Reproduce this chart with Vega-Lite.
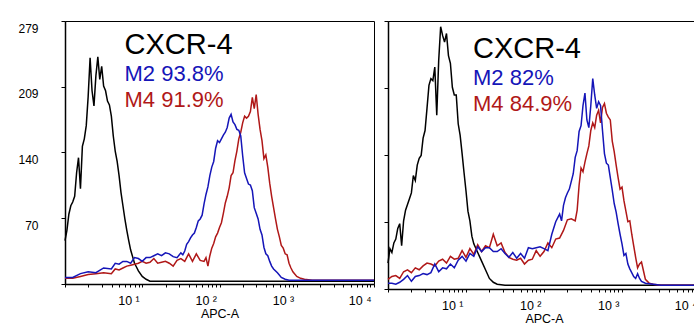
{
  "$schema": "https://vega.github.io/schema/vega-lite/v6.json",
  "background": "white",
  "padding": {"left": 17, "top": 15, "right": 0, "bottom": 0},
  "spacing": 5,
  "config": {
    "font": "Liberation Sans",
    "view": {"stroke": "black", "strokeWidth": 1},
    "axis": {"grid": false, "domainColor": "black", "domainWidth": 1.5, "tickColor": "black", "labelColor": "black", "titleColor": "black"},
    "axisX": {"tickSize": 3, "labelFontSize": 12.5, "labelPadding": 7, "labelAlign": "right", "labelOffset": -3, "labelFlush": false, "labelOverlap": false, "titleFontSize": 12.5, "titleFontWeight": "normal", "titlePadding": 1},
    "axisY": {"tickSize": 4, "labelFontSize": 12, "labelPadding": 23, "labelBaseline": "middle", "labelOffset": 7, "labelOverlap": false, "title": null}
  },
  "datasets": {
    "left": [
      {"sample":"Isotype","APC":1,"count":46},{"sample":"Isotype","APC":1.059,"count":57},{"sample":"Isotype","APC":1.122,"count":74},{"sample":"Isotype","APC":1.189,"count":83},{"sample":"Isotype","APC":1.259,"count":87},{"sample":"Isotype","APC":1.334,"count":93},{"sample":"Isotype","APC":1.413,"count":118},{"sample":"Isotype","APC":1.496,"count":134},{"sample":"Isotype","APC":1.585,"count":101},{"sample":"Isotype","APC":1.679,"count":146},{"sample":"Isotype","APC":1.778,"count":154},{"sample":"Isotype","APC":1.884,"count":168},{"sample":"Isotype","APC":1.995,"count":199},{"sample":"Isotype","APC":2.113,"count":240},{"sample":"Isotype","APC":2.239,"count":205},{"sample":"Isotype","APC":2.371,"count":189},{"sample":"Isotype","APC":2.512,"count":221},{"sample":"Isotype","APC":2.661,"count":241},{"sample":"Isotype","APC":2.818,"count":217},{"sample":"Isotype","APC":2.985,"count":231},{"sample":"Isotype","APC":3.162,"count":210},{"sample":"Isotype","APC":3.35,"count":205},{"sample":"Isotype","APC":3.548,"count":194},{"sample":"Isotype","APC":3.758,"count":190},{"sample":"Isotype","APC":3.981,"count":178},{"sample":"Isotype","APC":4.217,"count":157},{"sample":"Isotype","APC":4.467,"count":141},{"sample":"Isotype","APC":4.732,"count":130},{"sample":"Isotype","APC":5.012,"count":115},{"sample":"Isotype","APC":5.309,"count":97},{"sample":"Isotype","APC":5.623,"count":83},{"sample":"Isotype","APC":5.957,"count":69},{"sample":"Isotype","APC":6.31,"count":57},{"sample":"Isotype","APC":6.683,"count":46},{"sample":"Isotype","APC":7.079,"count":36},{"sample":"Isotype","APC":7.499,"count":29},{"sample":"Isotype","APC":7.943,"count":22},{"sample":"Isotype","APC":8.414,"count":18},{"sample":"Isotype","APC":8.913,"count":14},{"sample":"Isotype","APC":10,"count":8},{"sample":"Isotype","APC":11.22,"count":5},{"sample":"Isotype","APC":12.59,"count":3},{"sample":"Isotype","APC":31.62,"count":3},{"sample":"Isotype","APC":100,"count":3},{"sample":"Isotype","APC":316.2,"count":3},{"sample":"Isotype","APC":1000,"count":3},{"sample":"Isotype","APC":10000,"count":3},
      {"sample":"M4","APC":1,"count":6},{"sample":"M4","APC":1.259,"count":6},{"sample":"M4","APC":1.585,"count":8},{"sample":"M4","APC":1.995,"count":10},{"sample":"M4","APC":2.512,"count":11},{"sample":"M4","APC":3.162,"count":12},{"sample":"M4","APC":3.981,"count":11},{"sample":"M4","APC":4.467,"count":16},{"sample":"M4","APC":5.012,"count":15},{"sample":"M4","APC":5.623,"count":17},{"sample":"M4","APC":6.31,"count":19},{"sample":"M4","APC":7.079,"count":20},{"sample":"M4","APC":7.943,"count":21},{"sample":"M4","APC":8.913,"count":22},{"sample":"M4","APC":10,"count":24},{"sample":"M4","APC":11.22,"count":22},{"sample":"M4","APC":12.59,"count":23},{"sample":"M4","APC":14.13,"count":27},{"sample":"M4","APC":15.85,"count":22},{"sample":"M4","APC":17.78,"count":23},{"sample":"M4","APC":19.95,"count":24},{"sample":"M4","APC":22.39,"count":22},{"sample":"M4","APC":25.12,"count":19},{"sample":"M4","APC":28.18,"count":25},{"sample":"M4","APC":31.62,"count":27},{"sample":"M4","APC":35.48,"count":24},{"sample":"M4","APC":39.81,"count":32},{"sample":"M4","APC":44.67,"count":24},{"sample":"M4","APC":50.12,"count":32},{"sample":"M4","APC":56.23,"count":25},{"sample":"M4","APC":63.1,"count":24},{"sample":"M4","APC":66.83,"count":28},{"sample":"M4","APC":70.79,"count":19},{"sample":"M4","APC":74.99,"count":30},{"sample":"M4","APC":79.43,"count":38},{"sample":"M4","APC":84.14,"count":43},{"sample":"M4","APC":89.13,"count":50},{"sample":"M4","APC":94.41,"count":54},{"sample":"M4","APC":100,"count":60},{"sample":"M4","APC":105.9,"count":65},{"sample":"M4","APC":112.2,"count":75},{"sample":"M4","APC":118.9,"count":86},{"sample":"M4","APC":125.9,"count":93},{"sample":"M4","APC":133.4,"count":102},{"sample":"M4","APC":141.3,"count":115},{"sample":"M4","APC":149.6,"count":118},{"sample":"M4","APC":158.5,"count":131},{"sample":"M4","APC":167.9,"count":141},{"sample":"M4","APC":177.8,"count":154},{"sample":"M4","APC":188.4,"count":161},{"sample":"M4","APC":199.5,"count":171},{"sample":"M4","APC":211.3,"count":178},{"sample":"M4","APC":223.9,"count":176},{"sample":"M4","APC":237.1,"count":178},{"sample":"M4","APC":251.2,"count":183},{"sample":"M4","APC":266.1,"count":198},{"sample":"M4","APC":281.8,"count":186},{"sample":"M4","APC":298.5,"count":201},{"sample":"M4","APC":316.2,"count":180},{"sample":"M4","APC":335,"count":164},{"sample":"M4","APC":354.8,"count":152},{"sample":"M4","APC":375.8,"count":133},{"sample":"M4","APC":398.1,"count":137},{"sample":"M4","APC":421.7,"count":124},{"sample":"M4","APC":446.7,"count":107},{"sample":"M4","APC":473.2,"count":93},{"sample":"M4","APC":501.2,"count":81},{"sample":"M4","APC":530.9,"count":69},{"sample":"M4","APC":562.3,"count":58},{"sample":"M4","APC":595.7,"count":50},{"sample":"M4","APC":631,"count":41},{"sample":"M4","APC":668.3,"count":38},{"sample":"M4","APC":707.9,"count":32},{"sample":"M4","APC":749.9,"count":31},{"sample":"M4","APC":794.3,"count":22},{"sample":"M4","APC":841.4,"count":17},{"sample":"M4","APC":891.3,"count":13},{"sample":"M4","APC":1000,"count":8},{"sample":"M4","APC":1122,"count":6},{"sample":"M4","APC":1259,"count":5},{"sample":"M4","APC":1585,"count":4},{"sample":"M4","APC":10000,"count":4},
      {"sample":"M2","APC":1,"count":7},{"sample":"M2","APC":1.259,"count":7},{"sample":"M2","APC":1.585,"count":11},{"sample":"M2","APC":1.995,"count":13},{"sample":"M2","APC":2.512,"count":12},{"sample":"M2","APC":3.162,"count":17},{"sample":"M2","APC":3.981,"count":16},{"sample":"M2","APC":4.467,"count":22},{"sample":"M2","APC":5.012,"count":21},{"sample":"M2","APC":5.623,"count":24},{"sample":"M2","APC":6.31,"count":24},{"sample":"M2","APC":7.079,"count":22},{"sample":"M2","APC":7.943,"count":28},{"sample":"M2","APC":8.913,"count":27},{"sample":"M2","APC":10,"count":24},{"sample":"M2","APC":11.22,"count":28},{"sample":"M2","APC":12.59,"count":28},{"sample":"M2","APC":14.13,"count":30},{"sample":"M2","APC":15.85,"count":32},{"sample":"M2","APC":17.78,"count":30},{"sample":"M2","APC":19.95,"count":33},{"sample":"M2","APC":22.39,"count":32},{"sample":"M2","APC":25.12,"count":29},{"sample":"M2","APC":28.18,"count":28},{"sample":"M2","APC":31.62,"count":33},{"sample":"M2","APC":33.5,"count":31},{"sample":"M2","APC":35.48,"count":35},{"sample":"M2","APC":37.58,"count":42},{"sample":"M2","APC":39.81,"count":45},{"sample":"M2","APC":42.17,"count":49},{"sample":"M2","APC":44.67,"count":52},{"sample":"M2","APC":47.32,"count":54},{"sample":"M2","APC":50.12,"count":60},{"sample":"M2","APC":53.09,"count":67},{"sample":"M2","APC":56.23,"count":69},{"sample":"M2","APC":59.57,"count":73},{"sample":"M2","APC":63.1,"count":85},{"sample":"M2","APC":66.83,"count":95},{"sample":"M2","APC":70.79,"count":103},{"sample":"M2","APC":74.99,"count":115},{"sample":"M2","APC":79.43,"count":124},{"sample":"M2","APC":84.14,"count":130},{"sample":"M2","APC":89.13,"count":144},{"sample":"M2","APC":94.41,"count":152},{"sample":"M2","APC":100,"count":150},{"sample":"M2","APC":105.9,"count":154},{"sample":"M2","APC":112.2,"count":158},{"sample":"M2","APC":118.9,"count":161},{"sample":"M2","APC":125.9,"count":166},{"sample":"M2","APC":133.4,"count":176},{"sample":"M2","APC":141.3,"count":180},{"sample":"M2","APC":149.6,"count":172},{"sample":"M2","APC":158.5,"count":169},{"sample":"M2","APC":167.9,"count":164},{"sample":"M2","APC":177.8,"count":163},{"sample":"M2","APC":188.4,"count":157},{"sample":"M2","APC":199.5,"count":136},{"sample":"M2","APC":211.3,"count":118},{"sample":"M2","APC":223.9,"count":112},{"sample":"M2","APC":237.1,"count":106},{"sample":"M2","APC":251.2,"count":105},{"sample":"M2","APC":266.1,"count":99},{"sample":"M2","APC":281.8,"count":81},{"sample":"M2","APC":298.5,"count":75},{"sample":"M2","APC":316.2,"count":69},{"sample":"M2","APC":335,"count":58},{"sample":"M2","APC":354.8,"count":52},{"sample":"M2","APC":375.8,"count":39},{"sample":"M2","APC":398.1,"count":32},{"sample":"M2","APC":421.7,"count":30},{"sample":"M2","APC":446.7,"count":24},{"sample":"M2","APC":473.2,"count":19},{"sample":"M2","APC":501.2,"count":16},{"sample":"M2","APC":562.3,"count":12},{"sample":"M2","APC":631,"count":7},{"sample":"M2","APC":707.9,"count":5},{"sample":"M2","APC":794.3,"count":4},{"sample":"M2","APC":1000,"count":4},{"sample":"M2","APC":3162,"count":4},{"sample":"M2","APC":10000,"count":4}
    ],
    "right": [
      {"sample":"Isotype","APC":1,"count":27},{"sample":"Isotype","APC":1.059,"count":42},{"sample":"Isotype","APC":1.122,"count":38},{"sample":"Isotype","APC":1.189,"count":48},{"sample":"Isotype","APC":1.259,"count":52},{"sample":"Isotype","APC":1.334,"count":63},{"sample":"Isotype","APC":1.413,"count":68},{"sample":"Isotype","APC":1.496,"count":45},{"sample":"Isotype","APC":1.585,"count":71},{"sample":"Isotype","APC":1.679,"count":82},{"sample":"Isotype","APC":1.778,"count":88},{"sample":"Isotype","APC":1.884,"count":94},{"sample":"Isotype","APC":1.995,"count":100},{"sample":"Isotype","APC":2.113,"count":118},{"sample":"Isotype","APC":2.239,"count":113},{"sample":"Isotype","APC":2.371,"count":129},{"sample":"Isotype","APC":2.512,"count":136},{"sample":"Isotype","APC":2.661,"count":139},{"sample":"Isotype","APC":2.818,"count":157},{"sample":"Isotype","APC":2.985,"count":165},{"sample":"Isotype","APC":3.162,"count":188},{"sample":"Isotype","APC":3.35,"count":212},{"sample":"Isotype","APC":3.548,"count":219},{"sample":"Isotype","APC":3.758,"count":217},{"sample":"Isotype","APC":3.981,"count":231},{"sample":"Isotype","APC":4.217,"count":181},{"sample":"Isotype","APC":4.467,"count":238},{"sample":"Isotype","APC":4.732,"count":273},{"sample":"Isotype","APC":5.012,"count":264},{"sample":"Isotype","APC":5.309,"count":257},{"sample":"Isotype","APC":5.623,"count":266},{"sample":"Isotype","APC":5.957,"count":243},{"sample":"Isotype","APC":6.31,"count":235},{"sample":"Isotype","APC":6.683,"count":210},{"sample":"Isotype","APC":7.079,"count":202},{"sample":"Isotype","APC":7.499,"count":202},{"sample":"Isotype","APC":7.943,"count":172},{"sample":"Isotype","APC":8.414,"count":160},{"sample":"Isotype","APC":8.913,"count":141},{"sample":"Isotype","APC":9.441,"count":121},{"sample":"Isotype","APC":10,"count":102},{"sample":"Isotype","APC":10.59,"count":81},{"sample":"Isotype","APC":11.22,"count":71},{"sample":"Isotype","APC":11.89,"count":55},{"sample":"Isotype","APC":12.59,"count":47},{"sample":"Isotype","APC":14.13,"count":38},{"sample":"Isotype","APC":15.85,"count":29},{"sample":"Isotype","APC":17.78,"count":20},{"sample":"Isotype","APC":19.95,"count":11},{"sample":"Isotype","APC":22.39,"count":7},{"sample":"Isotype","APC":25.12,"count":5},{"sample":"Isotype","APC":31.62,"count":4},{"sample":"Isotype","APC":100,"count":4},{"sample":"Isotype","APC":1000,"count":4},{"sample":"Isotype","APC":10000,"count":4},
      {"sample":"M4","APC":1,"count":10},{"sample":"M4","APC":1.122,"count":13},{"sample":"M4","APC":1.259,"count":14},{"sample":"M4","APC":1.413,"count":11},{"sample":"M4","APC":1.585,"count":18},{"sample":"M4","APC":1.778,"count":20},{"sample":"M4","APC":1.995,"count":17},{"sample":"M4","APC":2.239,"count":22},{"sample":"M4","APC":2.512,"count":20},{"sample":"M4","APC":2.818,"count":24},{"sample":"M4","APC":3.162,"count":27},{"sample":"M4","APC":3.548,"count":26},{"sample":"M4","APC":3.981,"count":24},{"sample":"M4","APC":4.467,"count":29},{"sample":"M4","APC":5.012,"count":31},{"sample":"M4","APC":5.623,"count":27},{"sample":"M4","APC":6.31,"count":34},{"sample":"M4","APC":7.079,"count":31},{"sample":"M4","APC":7.943,"count":32},{"sample":"M4","APC":8.913,"count":40},{"sample":"M4","APC":10,"count":33},{"sample":"M4","APC":11.22,"count":42},{"sample":"M4","APC":12.59,"count":36},{"sample":"M4","APC":14.13,"count":46},{"sample":"M4","APC":15.85,"count":39},{"sample":"M4","APC":17.78,"count":45},{"sample":"M4","APC":19.95,"count":43},{"sample":"M4","APC":22.39,"count":57},{"sample":"M4","APC":25.12,"count":45},{"sample":"M4","APC":28.18,"count":48},{"sample":"M4","APC":31.62,"count":38},{"sample":"M4","APC":35.48,"count":33},{"sample":"M4","APC":39.81,"count":31},{"sample":"M4","APC":44.67,"count":30},{"sample":"M4","APC":50.12,"count":32},{"sample":"M4","APC":56.23,"count":26},{"sample":"M4","APC":63.1,"count":30},{"sample":"M4","APC":70.79,"count":31},{"sample":"M4","APC":79.43,"count":40},{"sample":"M4","APC":89.13,"count":34},{"sample":"M4","APC":100,"count":39},{"sample":"M4","APC":112.2,"count":48},{"sample":"M4","APC":125.9,"count":43},{"sample":"M4","APC":141.3,"count":52},{"sample":"M4","APC":158.5,"count":53},{"sample":"M4","APC":177.8,"count":61},{"sample":"M4","APC":199.5,"count":72},{"sample":"M4","APC":223.9,"count":73},{"sample":"M4","APC":251.2,"count":71},{"sample":"M4","APC":266.1,"count":82},{"sample":"M4","APC":281.8,"count":108},{"sample":"M4","APC":298.5,"count":126},{"sample":"M4","APC":316.2,"count":122},{"sample":"M4","APC":335,"count":132},{"sample":"M4","APC":354.8,"count":141},{"sample":"M4","APC":375.8,"count":149},{"sample":"M4","APC":398.1,"count":165},{"sample":"M4","APC":421.7,"count":173},{"sample":"M4","APC":446.7,"count":168},{"sample":"M4","APC":473.2,"count":181},{"sample":"M4","APC":501.2,"count":186},{"sample":"M4","APC":530.9,"count":173},{"sample":"M4","APC":562.3,"count":189},{"sample":"M4","APC":595.7,"count":193},{"sample":"M4","APC":631,"count":183},{"sample":"M4","APC":668.3,"count":179},{"sample":"M4","APC":707.9,"count":176},{"sample":"M4","APC":749.9,"count":154},{"sample":"M4","APC":794.3,"count":143},{"sample":"M4","APC":841.4,"count":129},{"sample":"M4","APC":891.3,"count":116},{"sample":"M4","APC":944.1,"count":104},{"sample":"M4","APC":1000,"count":106},{"sample":"M4","APC":1059,"count":92},{"sample":"M4","APC":1122,"count":81},{"sample":"M4","APC":1189,"count":70},{"sample":"M4","APC":1259,"count":71},{"sample":"M4","APC":1334,"count":57},{"sample":"M4","APC":1413,"count":45},{"sample":"M4","APC":1496,"count":33},{"sample":"M4","APC":1585,"count":22},{"sample":"M4","APC":1679,"count":26},{"sample":"M4","APC":1778,"count":28},{"sample":"M4","APC":1884,"count":19},{"sample":"M4","APC":1995,"count":10},{"sample":"M4","APC":2239,"count":6},{"sample":"M4","APC":2512,"count":5},{"sample":"M4","APC":3162,"count":4},{"sample":"M4","APC":10000,"count":4},
      {"sample":"M2","APC":1,"count":6},{"sample":"M2","APC":1.122,"count":6},{"sample":"M2","APC":1.259,"count":5},{"sample":"M2","APC":1.413,"count":7},{"sample":"M2","APC":1.585,"count":10},{"sample":"M2","APC":1.778,"count":14},{"sample":"M2","APC":1.995,"count":8},{"sample":"M2","APC":2.239,"count":13},{"sample":"M2","APC":2.512,"count":14},{"sample":"M2","APC":2.818,"count":16},{"sample":"M2","APC":3.162,"count":15},{"sample":"M2","APC":3.548,"count":17},{"sample":"M2","APC":3.981,"count":26},{"sample":"M2","APC":4.467,"count":18},{"sample":"M2","APC":5.012,"count":22},{"sample":"M2","APC":5.623,"count":21},{"sample":"M2","APC":6.31,"count":26},{"sample":"M2","APC":7.079,"count":22},{"sample":"M2","APC":7.943,"count":30},{"sample":"M2","APC":8.913,"count":34},{"sample":"M2","APC":10,"count":29},{"sample":"M2","APC":11.22,"count":37},{"sample":"M2","APC":12.59,"count":34},{"sample":"M2","APC":14.13,"count":44},{"sample":"M2","APC":15.85,"count":39},{"sample":"M2","APC":17.78,"count":43},{"sample":"M2","APC":19.95,"count":43},{"sample":"M2","APC":22.39,"count":39},{"sample":"M2","APC":25.12,"count":39},{"sample":"M2","APC":28.18,"count":42},{"sample":"M2","APC":31.62,"count":37},{"sample":"M2","APC":35.48,"count":33},{"sample":"M2","APC":39.81,"count":38},{"sample":"M2","APC":44.67,"count":32},{"sample":"M2","APC":50.12,"count":37},{"sample":"M2","APC":56.23,"count":32},{"sample":"M2","APC":63.1,"count":43},{"sample":"M2","APC":70.79,"count":42},{"sample":"M2","APC":79.43,"count":43},{"sample":"M2","APC":89.13,"count":44},{"sample":"M2","APC":100,"count":42},{"sample":"M2","APC":112.2,"count":40},{"sample":"M2","APC":125.9,"count":57},{"sample":"M2","APC":141.3,"count":70},{"sample":"M2","APC":158.5,"count":78},{"sample":"M2","APC":167.9,"count":71},{"sample":"M2","APC":177.8,"count":87},{"sample":"M2","APC":188.4,"count":95},{"sample":"M2","APC":199.5,"count":100},{"sample":"M2","APC":211.3,"count":104},{"sample":"M2","APC":223.9,"count":112},{"sample":"M2","APC":237.1,"count":120},{"sample":"M2","APC":251.2,"count":137},{"sample":"M2","APC":266.1,"count":144},{"sample":"M2","APC":281.8,"count":164},{"sample":"M2","APC":298.5,"count":170},{"sample":"M2","APC":316.2,"count":191},{"sample":"M2","APC":335,"count":204},{"sample":"M2","APC":354.8,"count":176},{"sample":"M2","APC":375.8,"count":168},{"sample":"M2","APC":398.1,"count":191},{"sample":"M2","APC":421.7,"count":219},{"sample":"M2","APC":446.7,"count":202},{"sample":"M2","APC":473.2,"count":188},{"sample":"M2","APC":501.2,"count":195},{"sample":"M2","APC":530.9,"count":191},{"sample":"M2","APC":562.3,"count":165},{"sample":"M2","APC":595.7,"count":141},{"sample":"M2","APC":631,"count":131},{"sample":"M2","APC":668.3,"count":129},{"sample":"M2","APC":707.9,"count":116},{"sample":"M2","APC":749.9,"count":103},{"sample":"M2","APC":794.3,"count":89},{"sample":"M2","APC":841.4,"count":80},{"sample":"M2","APC":891.3,"count":68},{"sample":"M2","APC":944.1,"count":57},{"sample":"M2","APC":1000,"count":47},{"sample":"M2","APC":1059,"count":35},{"sample":"M2","APC":1122,"count":37},{"sample":"M2","APC":1189,"count":26},{"sample":"M2","APC":1259,"count":21},{"sample":"M2","APC":1413,"count":13},{"sample":"M2","APC":1496,"count":11},{"sample":"M2","APC":1585,"count":16},{"sample":"M2","APC":1679,"count":11},{"sample":"M2","APC":1778,"count":8},{"sample":"M2","APC":1995,"count":6},{"sample":"M2","APC":2512,"count":5},{"sample":"M2","APC":3162,"count":4},{"sample":"M2","APC":10000,"count":4}
    ]
  },
  "hconcat": [
    {
      "width": 309,
      "height": 263,
      "title": {"text": " ", "fontSize": 1, "offset": 4},
      "data": {"name": "left"},
      "encoding": {
        "x": {"field": "APC", "type": "quantitative", "scale": {"type": "log", "domain": [1, 10000], "nice": false},
          "axis": {"title": "APC-A", "values": [1,2,3,4,5,6,7,8,9,10,20,30,40,50,60,70,80,90,100,200,300,400,500,600,700,800,900,1000,2000,3000,4000,5000,6000,7000,8000,9000,10000],
            "labelExpr": "datum.value == 10 ? '10 ¹' : datum.value == 100 ? '10 ²' : datum.value == 1000 ? '10 ³' : datum.value == 10000 ? '10 ⁴' : ''"}},
        "y": {"field": "count", "type": "quantitative", "scale": {"domain": [0, 279], "nice": false},
          "axis": {"values": [0, 70, 140, 209, 279], "labelExpr": "datum.value == 0 ? '' : datum.label"}},
        "color": {"field": "sample", "type": "nominal", "scale": {"domain": ["Isotype", "M2", "M4"], "range": ["#000000", "#1515b8", "#b01818"]}, "legend": null}
      },
      "layer": [
        {"transform": [{"filter": {"field": "sample", "equal": "Isotype"}}], "mark": {"type": "line", "strokeWidth": 1.5}},
        {"transform": [{"filter": {"field": "sample", "equal": "M4"}}], "mark": {"type": "line", "strokeWidth": 1.5}},
        {"transform": [{"filter": {"field": "sample", "equal": "M2"}}], "mark": {"type": "line", "strokeWidth": 1.5}},
        {"data": {"values": [{"text": "CXCR-4", "APC": 5.9, "count": 244}]},
          "mark": {"type": "text", "align": "left", "baseline": "alphabetic", "fontSize": 29},
          "encoding": {"text": {"field": "text"}, "color": {"value": "black"}}},
        {"data": {"values": [{"text": "M2 93.8%", "sample": "M2", "APC": 5.9, "count": 215}, {"text": "M4 91.9%", "sample": "M4", "APC": 5.9, "count": 188}]},
          "mark": {"type": "text", "align": "left", "baseline": "alphabetic", "fontSize": 22},
          "encoding": {"text": {"field": "text"}}}
      ]
    },
    {
      "width": 312,
      "height": 268,
      "data": {"name": "right"},
      "encoding": {
        "x": {"field": "APC", "type": "quantitative", "scale": {"type": "log", "domain": [1, 10000], "nice": false},
          "axis": {"title": "APC-A", "values": [1,2,3,4,5,6,7,8,9,10,20,30,40,50,60,70,80,90,100,200,300,400,500,600,700,800,900,1000,2000,3000,4000,5000,6000,7000,8000,9000,10000],
            "labelExpr": "datum.value == 10 ? '10 ¹' : datum.value == 100 ? '10 ²' : datum.value == 1000 ? '10 ³' : datum.value == 10000 ? '10 ⁴' : ''"}},
        "y": {"field": "count", "type": "quantitative", "scale": {"domain": [0, 279], "nice": false},
          "axis": {"values": [0, 70, 140, 209, 279], "labels": false}},
        "color": {"field": "sample", "type": "nominal", "scale": {"domain": ["Isotype", "M2", "M4"], "range": ["#000000", "#1515b8", "#b01818"]}, "legend": null}
      },
      "layer": [
        {"transform": [{"filter": {"field": "sample", "equal": "Isotype"}}], "mark": {"type": "line", "strokeWidth": 1.5}},
        {"transform": [{"filter": {"field": "sample", "equal": "M4"}}], "mark": {"type": "line", "strokeWidth": 1.5}},
        {"transform": [{"filter": {"field": "sample", "equal": "M2"}}], "mark": {"type": "line", "strokeWidth": 1.5}},
        {"data": {"values": [{"text": "CXCR-4", "APC": 12.3, "count": 240}]},
          "mark": {"type": "text", "align": "left", "baseline": "alphabetic", "fontSize": 29},
          "encoding": {"text": {"field": "text"}, "color": {"value": "black"}}},
        {"data": {"values": [{"text": "M2 82%", "sample": "M2", "APC": 12.3, "count": 212}, {"text": "M4 84.9%", "sample": "M4", "APC": 12.3, "count": 185}]},
          "mark": {"type": "text", "align": "left", "baseline": "alphabetic", "fontSize": 22},
          "encoding": {"text": {"field": "text"}}}
      ]
    }
  ]
}
